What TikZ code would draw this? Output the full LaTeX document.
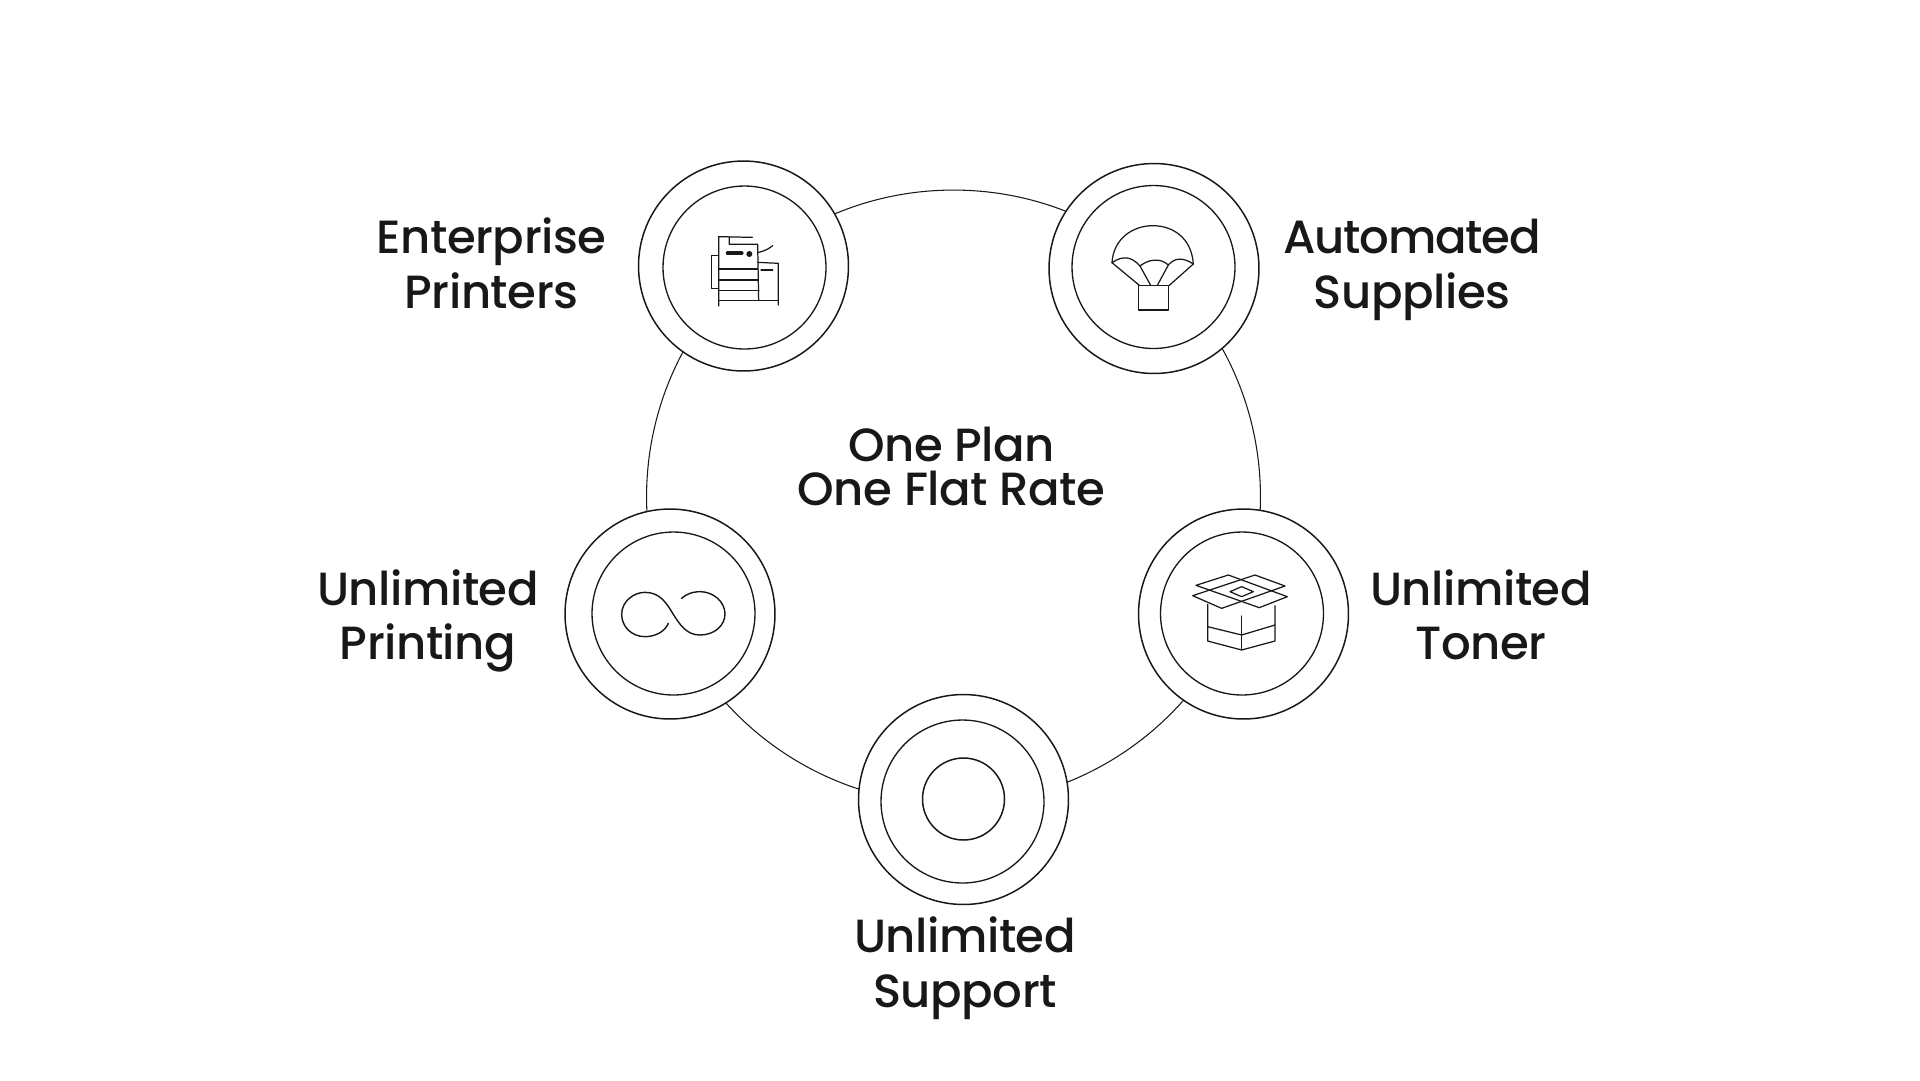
\documentclass[tikz,border=0pt]{standalone}
\usepackage{fontspec}
\setmainfont{Poppins}[UprightFont={* Medium},LetterSpace=-1.0]
\definecolor{ink}{HTML}{181818}
\tikzset{
  outerdisc/.style={circle,draw=ink,fill=white,line width=0.85pt,minimum size=4.2cm,inner sep=0pt},
  innerdisc/.style={circle,draw=ink,fill=white,line width=0.75pt,minimum size=3.26cm,inner sep=0pt},
  ringline/.style={circle,draw=ink,line width=0.6pt,minimum size=12.28cm,inner sep=0pt},
  label/.style={text=ink,align=center,font=\fontsize{26.5}{30.9}\selectfont},
  midlabel/.style={text=ink,align=center,font={\fontsize{26.5}{25.5}\selectfont\lineskiplimit=-10pt\relax}},
  icon/.style={draw=ink,line width=0.7pt,line join=round,line cap=round},
}
\begin{document}
\begin{tikzpicture}[x=0.02cm,y=-0.02cm]
\useasboundingbox (0,0) rectangle (1920,1080);
\node[ringline] (ring) at (953.5,497) {};
\node[outerdisc] (o1) at (743.5,266) {};
\node[innerdisc] (i1) at (744.5,267.5) {};
\node[outerdisc] (o2) at (1154,268.5) {};
\node[innerdisc] (i2) at (1153.5,267) {};
\node[outerdisc] (o3) at (1243.5,614) {};
\node[innerdisc] (i3) at (1242,613.5) {};
\node[outerdisc] (o4) at (670,614) {};
\node[innerdisc] (i4) at (673.5,613.5) {};
\node[outerdisc] (o5) at (963.5,799.5) {};
\node[innerdisc] (i5) at (962.5,801.5) {};
\node[circle,draw=ink,line width=0.85pt,minimum size=1.64cm,inner sep=0pt] (core) at (963.5,799) {};
% printer
\begin{scope}[shift={(690,230)},x=0.00667cm,y=-0.00667cm]
\draw[icon] (187,22)--(86,20)--(86,228);
\draw[icon] (118,20)--(118,43)--(203,43)--(206,212);
\draw[icon] (88,117)--(203,117) (88,150)--(205,150) (88,182)--(207,182) (88,212)--(265,212);
\draw[icon] (86,76)--(65,76)--(65,175)--(86,175);
\draw[icon] (203,97)--(265,100)--(265,225);
\draw[icon] (213,120)--(248,120);
\draw[icon,line width=2.2pt] (113,70)--(155,70);
\fill[ink] (178,72) circle[radius=9];
\draw[icon] (203,68)..controls (220,64) and (235,58)..(248,47);
\end{scope}
% parachute
\begin{scope}[shift={(1030,140)},x=0.00667cm,y=-0.00667cm]
\draw[icon] (246,368)..controls (250,295) and (310,257)..(368,257)..controls (430,257) and (485,295)..(490,372);
\draw[icon] (246,368)..controls (280,345) and (305,350)..(330,378)..controls (355,358) and (390,352)..(415,375)..controls (435,352) and (460,352)..(490,372);
\draw[icon] (246,368)--(328,436) (330,378)--(362,436) (415,375)--(382,436) (490,372)--(418,436);
\draw[icon] (326,436) rectangle (416,510);
\end{scope}
% box
\begin{scope}[shift={(1120,490)},x=0.00667cm,y=-0.00667cm]
\draw[icon] (228,286)--(325,255)--(502,320)--(418,353)--(228,286);
\draw[icon] (405,255)--(495,288)--(305,355)--(218,317)--(405,255);
\draw[icon] (330,305)--(365,290)--(400,305)--(365,320)--cycle;
\draw[icon] (263,343)--(263,453)--(365,480)--(465,453)--(465,347);
\draw[icon] (365,378)--(365,480);
\draw[icon] (263,410)--(365,435)--(465,405);
\end{scope}
% infinity
\begin{scope}[shift={(550,490)},x=0.00667cm,y=-0.00667cm]
\draw[icon,line width=0.8pt] (355,400)..controls (345,425) and (315,440)..(285,440)..controls (245,440) and (215,410)..(215,373)..controls (215,335) and (250,307)..(285,307)..controls (330,307) and (350,340)..(368,370)..controls (390,405) and (410,435)..(450,435)..controls (495,435) and (525,405)..(525,372)..controls (525,335) and (490,305)..(450,305)..controls (425,305) and (405,315)..(395,325);
\end{scope}
\node[label] (t1) at (491.5,270) {\strut Enterprise\\Printers\strut};
\node[label] (t2) at (1412,270) {\strut {\addfontfeature{LetterSpace=-2.6}Automated}\\Supplies\strut};
\node[label] (t3) at (1481,621.5) {\strut Unlimited\\Toner\strut};
\node[label] (t4) at (428,621.5) {\strut Unlimited\\Printing\strut};
\node[label] (t5) at (965,969) {\strut Unlimited\\Support\strut};
\node[midlabel] (t6) at (951.5,473) {\strut One Plan\\One Flat Rate\strut};
\end{tikzpicture}
\end{document}
